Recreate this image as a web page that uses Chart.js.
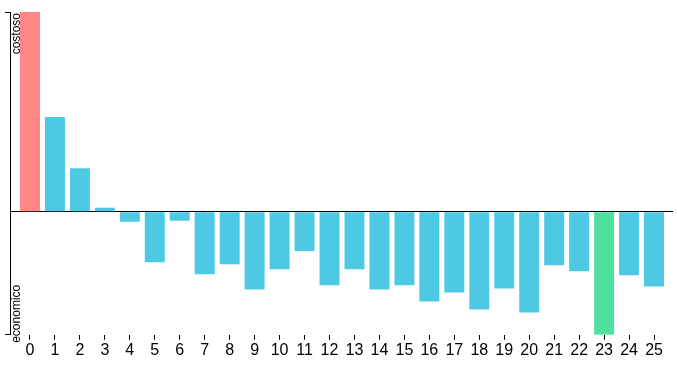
<!DOCTYPE html>
<html>
<head>
<meta charset="utf-8">
<script src="https://cdn.jsdelivr.net/npm/chart.js@4/dist/chart.umd.min.js"></script>
<style>
  html, body { margin: 0; padding: 0; background: #fff; }
  #wrap { width: 677px; height: 371px; }
</style>
</head>
<body>
<div id="wrap"><canvas id="chart" width="677" height="371"></canvas></div>
<script>
// categories along the x axis
const categories = [0, 1, 2, 3, 4, 5, 6, 7, 8, 9, 10, 11, 12, 13, 14, 15, 16, 17, 18, 19, 20, 21, 22, 23, 24, 25];
// bar values (zero = baseline)
const values = [198, 94, 43, 4, -10, -50, -9, -62, -52, -77, -57, -39, -73, -57, -77, -73, -89, -80, -97, -76, -100, -53, -59, -122, -63, -74];
// labels at the two ends of the y axis
const topLabel = 'costoso';
const bottomLabel = 'economico';

const maxVal = Math.max(...values);
const minVal = Math.min(...values);

const RED = 'rgb(255, 135, 133)';
const BLUE = 'rgb(78, 201, 227)';
const GREEN = 'rgb(79, 224, 157)';

Chart.defaults.font.family = '"Liberation Sans", Arial, sans-serif';
Chart.defaults.color = '#000';

// rotated labels next to the y axis
const endLabels = {
    id: 'endLabels',
    afterDraw(chart) {
        const ctx = chart.ctx;
        const y = chart.scales.y;
        const x = chart.chartArea.left + 9.5;
        ctx.save();
        ctx.font = '12px "Liberation Sans", Arial, sans-serif';
        ctx.fillStyle = '#000';
        ctx.textBaseline = 'alphabetic';

        ctx.save();
        ctx.translate(x, y.getPixelForValue(maxVal) + 1);
        ctx.rotate(-Math.PI / 2);
        ctx.textAlign = 'right';
        ctx.fillText(topLabel, 0, 0);
        ctx.restore();

        ctx.save();
        ctx.translate(x, y.getPixelForValue(minVal) + 8);
        ctx.rotate(-Math.PI / 2);
        ctx.textAlign = 'left';
        ctx.fillText(bottomLabel, 0, 0);
        ctx.restore();

        ctx.restore();
    }
};

const ctx = document.getElementById('chart').getContext('2d');
const chart = new Chart(ctx, {
    type: 'bar',
    data: {
        datasets: [{
            data: categories.map((c, i) => ({ x: c, y: values[i] })),
            backgroundColor: values.map(v => v === maxVal ? RED : (v === minVal ? GREEN : BLUE)),
            borderWidth: 0,
            barPercentage: 0.8,
            categoryPercentage: 1
        }]
    },
    options: {
        responsive: false,
        animation: false,
        layout: {
            padding: { left: 5, right: 4, top: 12, bottom: 10 }
        },
        plugins: {
            legend: { display: false },
            tooltip: { enabled: false }
        },
        scales: {
            x: {
                type: 'linear',
                offset: false,
                min: -0.8,
                max: 25.76,
                afterBuildTicks: scale => {
                    scale.ticks = categories.map(c => ({ value: c }));
                },
                ticks: {
                    autoSkip: false,
                    maxRotation: 0,
                    padding: 1,
                    font: { size: 16 },
                    callback: v => String(v)
                },
                grid: {
                    offset: false,
                    drawOnChartArea: false,
                    tickLength: 5,
                    tickColor: '#000'
                },
                border: { display: false }
            },
            y: {
                min: minVal,
                max: maxVal,
                z: 1,
                afterBuildTicks: scale => {
                    scale.ticks = [{ value: minVal }, { value: 0 }, { value: maxVal }];
                },
                ticks: { display: false },
                grid: {
                    tickLength: 5,
                    color: c => c.tick && c.tick.value === 0 ? '#000' : 'rgba(0,0,0,0)',
                    tickColor: c => c.tick && c.tick.value === 0 ? 'rgba(0,0,0,0)' : '#000'
                },
                border: { display: true, color: '#000' }
            }
        }
    },
    plugins: [endLabels]
});
</script>
</body>
</html>
